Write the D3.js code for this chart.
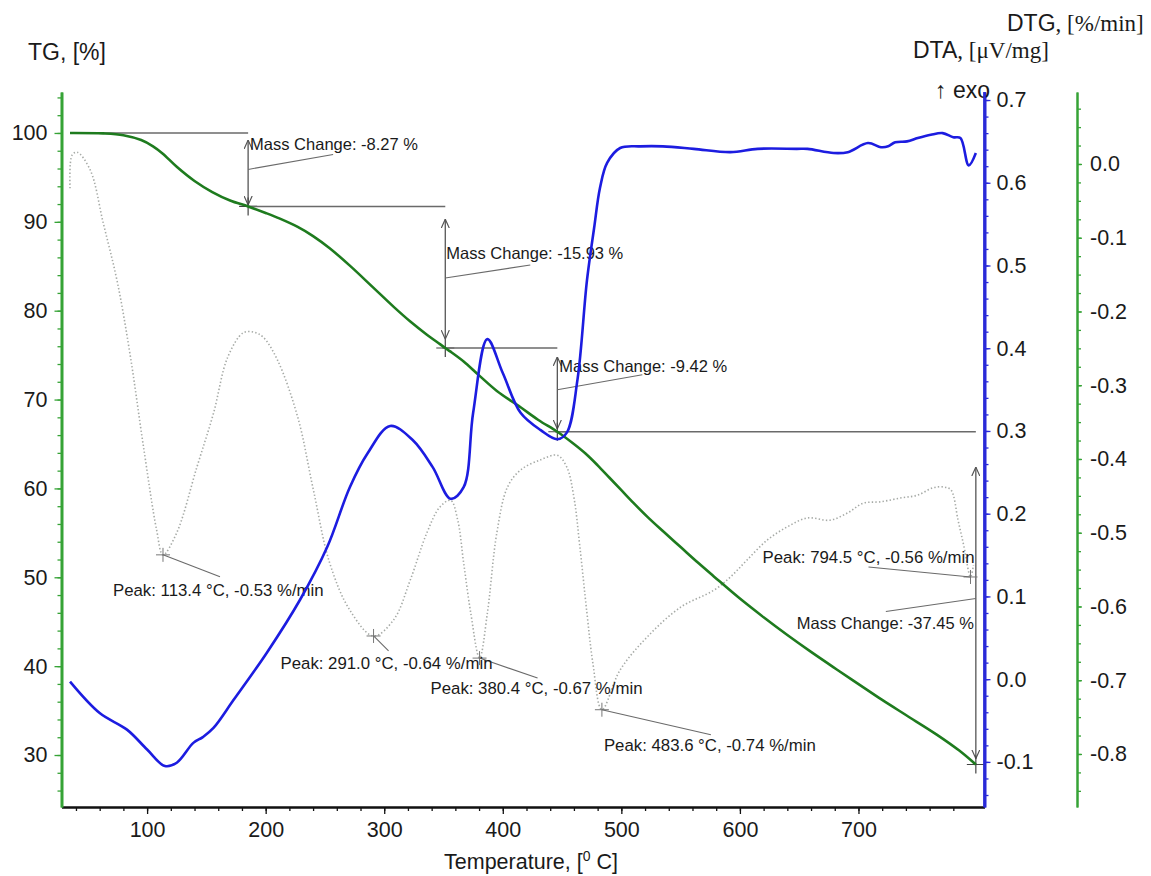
<!DOCTYPE html>
<html><head><meta charset="utf-8">
<script src="https://cdn.jsdelivr.net/npm/d3@7"></script>
<style>
body{margin:0;background:#fff}
svg{display:block}
text{font-family:"Liberation Sans",Arial,Helvetica,sans-serif;fill:#1a1a1a}
</style></head><body>
<svg id="c" width="1151" height="876"></svg>
<script>
// ---------------- DATA ----------------
const tgTemp = [35, 63, 80, 95, 105, 113, 125, 140, 155, 170, 185.2, 200, 212, 227, 240, 254, 271, 291, 308, 322, 336, 347, 351.5, 356, 367, 380, 395, 415, 430, 446, 460, 470, 480, 490, 500, 510, 522, 535, 550, 565, 578, 600, 620, 640, 660, 682, 701, 720, 740, 766, 785, 799];
const tgMass = [100, 99.95, 99.75, 99.2, 98.5, 97.7, 96.2, 94.6, 93.35, 92.4, 91.73, 91.0, 90.36, 89.43, 88.4, 87.03, 85.07, 82.57, 80.43, 78.78, 77.3, 76.24, 75.8, 75.39, 74.29, 72.72, 70.97, 69.13, 67.7, 66.38, 65.0, 63.9, 62.6, 61.2, 59.8, 58.4, 56.8, 55.2, 53.4, 51.6, 50.1, 47.6, 45.5, 43.5, 41.6, 39.6, 37.9, 36.2, 34.5, 32.3, 30.5, 28.93];

const dtaTemp = [35, 60, 83, 100, 115, 125, 139, 147, 156, 173, 201, 229, 252, 271, 286, 305, 324, 341, 356, 367, 375, 387, 400, 415, 432, 446, 454, 463, 471, 477, 482, 488, 499, 516, 535, 561, 592, 615, 648, 657, 679, 691, 708, 719, 725, 731, 741, 750, 761, 771, 780, 786, 793, 799];
const dtaVal = [-0.003, -0.041, -0.061, -0.085, -0.105, -0.101, -0.077, -0.070, -0.059, -0.025, 0.032, 0.096, 0.160, 0.232, 0.273, 0.306, 0.289, 0.256, 0.218, 0.232, 0.322, 0.411, 0.370, 0.322, 0.301, 0.290, 0.298, 0.362, 0.482, 0.545, 0.594, 0.624, 0.642, 0.644, 0.644, 0.641, 0.637, 0.641, 0.641, 0.641, 0.636, 0.637, 0.648, 0.643, 0.644, 0.649, 0.650, 0.654, 0.658, 0.660, 0.655, 0.654, 0.621, 0.636];

const dtgTemp = [35, 36.7, 41, 52, 63, 75, 86, 97, 108, 113.4, 125, 142, 156, 168, 181, 190, 198, 210, 227, 240, 254, 271, 291, 308, 322, 336, 347, 356, 362, 367, 373, 380.4, 387, 395, 404, 415, 432, 446, 454, 460, 465, 471, 476, 483.6, 499, 522, 550, 578, 592, 606, 623, 640, 657, 676, 691, 704, 719, 735, 750, 763, 772, 778, 784, 789, 794.5, 797];
const dtgVal = [-0.033, 0.012, 0.016, -0.008, -0.080, -0.161, -0.262, -0.384, -0.496, -0.53, -0.500, -0.411, -0.338, -0.262, -0.229, -0.228, -0.235, -0.266, -0.343, -0.44, -0.541, -0.605, -0.64, -0.618, -0.564, -0.500, -0.465, -0.456, -0.483, -0.541, -0.609, -0.67, -0.609, -0.500, -0.438, -0.415, -0.401, -0.395, -0.411, -0.452, -0.519, -0.609, -0.677, -0.74, -0.686, -0.641, -0.601, -0.578, -0.560, -0.537, -0.510, -0.492, -0.480, -0.483, -0.473, -0.460, -0.458, -0.453, -0.449, -0.439, -0.438, -0.442, -0.483, -0.519, -0.56, -0.544];

// mass change steps
const massLabels = ["Mass Change: -8.27 %", "Mass Change: -15.93 %", "Mass Change: -9.42 %", "Mass Change: -37.45 %"];
const massTemps = [185.2, 351.5, 446, 799];
const massStartLevels = [100, 91.73, 75.80, 66.38];
const massEndLevels = [91.73, 75.80, 66.38, 28.93];
const levelLineFrom = [35, 185.2, 349, 444];
const arrowTop = [99.2, 90.3, 74.8, 62.4];
const arrowBottom = [91.9, 76.8, 66.7, 29.6];

// DTG peaks
const peakLabels = ["Peak: 113.4 °C, -0.53 %/min", "Peak: 291.0 °C, -0.64 %/min", "Peak: 380.4 °C, -0.67 %/min", "Peak: 483.6 °C, -0.74 %/min", "Peak: 794.5 °C, -0.56 %/min"];
const peakTemps = [113.4, 291.0, 380.4, 483.6, 794.5];
const peakVals = [-0.53, -0.64, -0.67, -0.74, -0.56];

// ticks
const xTicks = [100, 200, 300, 400, 500, 600, 700];
const tgTicks = [30, 40, 50, 60, 70, 80, 90, 100];
const dtaTicks = [-0.1, 0.0, 0.1, 0.2, 0.3, 0.4, 0.5, 0.6, 0.7];
const dtgTicks = [0.0, -0.1, -0.2, -0.3, -0.4, -0.5, -0.6, -0.7, -0.8];

// ---------------- LAYOUT / STYLE ----------------
const plot = {left: 61.5, right: 984.5, top: 92, bottom: 807};
const rightAxisX = 1077;
const C = {tg: "#1e7b1e", tgAxis: "#36a336", dta: "#1c1ce0", dtaAxis: "#2a2ad8", dtg: "#a6aaa6", ann: "#6a6a6a"};
const massLayout = [
  {dx: 2, dy: -56, anchor: "start", l0: [0, -37], l1: [85, -52]},
  {dx: 1, dy: -89, anchor: "start", l0: [0, -70], l1: [85, -83]},
  {dx: 2, dy: -60, anchor: "start", l0: [0, -42], l1: [85, -57]},
  {dx: -2, dy: -136, anchor: "end", l0: [0, -166], l1: [-90, -153]}
];
const peakLayout = [
  {dx: -50, dy: 41, anchor: "start", l1: [57, 22]},
  {dx: -93, dy: 33, anchor: "start", l1: [15, 15]},
  {dx: -49, dy: 36, anchor: "start", l1: [58, 20]},
  {dx: 2, dy: 41, anchor: "start", l1: [109, 25]},
  {dx: 4, dy: -14, anchor: "end", l1: [-102, -10]}
];

const svg = d3.select("#c");
const x = d3.scaleLinear().domain([27.8, 806.3]).range([plot.left, plot.right]);
const yTG = d3.scaleLinear().domain([24.15, 104.61]).range([plot.bottom, plot.top]);
const yDTA = d3.scaleLinear().domain([-0.1545, 0.7097]).range([plot.bottom, plot.top]);
const yDTG = d3.scaleLinear().domain([-0.8719, 0.0976]).range([plot.bottom, plot.top]);

const defs = svg.append("defs");
defs.append("marker").attr("id", "arr").attr("viewBox", "0 -5 10 10")
  .attr("refX", 10).attr("refY", 0).attr("markerWidth", 9).attr("markerHeight", 9)
  .attr("markerUnits", "userSpaceOnUse").attr("orient", "auto-start-reverse")
  .append("path").attr("d", "M0,-4.5L10,0L0,4.5").attr("fill", "none")
  .attr("stroke", "#555").attr("stroke-width", 1.3);

// DTG dotted
const dtgData = dtgTemp.map((t, i) => [t, dtgVal[i]]);
svg.append("path").datum(dtgData)
  .attr("d", d3.line().x(d => x(d[0])).y(d => yDTG(d[1])).curve(d3.curveCatmullRom.alpha(0.5)))
  .attr("fill", "none").attr("stroke", C.dtg).attr("stroke-width", 1.6).attr("stroke-dasharray", "1.4,2.2");

// annotations
const ann = svg.append("g").attr("stroke", C.ann).attr("stroke-width", 1.5).attr("fill", "none");
massTemps.forEach((t, i) => {
  ann.append("line").attr("x1", x(levelLineFrom[i])).attr("x2", x(t))
    .attr("y1", yTG(massStartLevels[i])).attr("y2", yTG(massStartLevels[i]));
  ann.append("line").attr("x1", x(t)).attr("x2", x(t))
    .attr("y1", yTG(arrowTop[i])).attr("y2", yTG(arrowBottom[i]))
    .attr("stroke", "#555").attr("stroke-width", 1.3)
    .attr("marker-start", "url(#arr)").attr("marker-end", "url(#arr)");
  const cx = x(t), cy = yTG(massEndLevels[i]);
  ann.append("path").attr("d", `M${cx - 9},${cy}H${cx + 9}M${cx},${cy - 9}V${cy + 9}`).attr("stroke", "#444").attr("stroke-width", 1.2);
  const L = massLayout[i];
  ann.append("line").attr("x1", cx + L.l0[0]).attr("y1", cy + L.l0[1]).attr("x2", cx + L.l1[0]).attr("y2", cy + L.l1[1]).attr("stroke-width", 1.1);
  svg.append("text").attr("x", cx + L.dx).attr("y", cy + L.dy).attr("text-anchor", L.anchor)
    .attr("font-size", 16.5).text(massLabels[i]);
});
peakTemps.forEach((t, i) => {
  const cx = x(t), cy = yDTG(peakVals[i]);
  const L = peakLayout[i];
  ann.append("path").attr("d", `M${cx - 7},${cy}H${cx + 7}M${cx},${cy - 7}V${cy + 7}`).attr("stroke", "#777").attr("stroke-width", 1);
  ann.append("line").attr("x1", cx).attr("y1", cy).attr("x2", cx + L.l1[0]).attr("y2", cy + L.l1[1]).attr("stroke-width", 1.1);
  svg.append("text").attr("x", cx + L.dx).attr("y", cy + L.dy).attr("text-anchor", L.anchor)
    .attr("font-size", 16.8).text(peakLabels[i]);
});

// TG
const tgData = tgTemp.map((t, i) => [t, tgMass[i]]);
svg.append("path").datum(tgData)
  .attr("d", d3.line().x(d => x(d[0])).y(d => yTG(d[1])).curve(d3.curveCatmullRom.alpha(0.5)))
  .attr("fill", "none").attr("stroke", C.tg).attr("stroke-width", 2.6);

// DTA
const dtaData = dtaTemp.map((t, i) => [t, dtaVal[i]]);
svg.append("path").datum(dtaData)
  .attr("d", d3.line().x(d => x(d[0])).y(d => yDTA(d[1])).curve(d3.curveCatmullRom.alpha(0.5)))
  .attr("fill", "none").attr("stroke", C.dta).attr("stroke-width", 2.6);

// ---------------- AXES ----------------
function styleAxis(g, color, width, font) {
  g.select(".domain").attr("stroke", color).attr("stroke-width", width);
  g.selectAll(".tick line").attr("stroke", color).attr("stroke-width", 1.3);
  g.selectAll(".tick text").attr("font-size", font).attr("fill", "#1a1a1a")
    .attr("font-family", '"Liberation Sans",Arial,sans-serif');
  g.attr("font-size", null).attr("font-family", null);
}
function range(a, b, s) { const r = []; for (let v = a; v <= b + 1e-9; v += s) r.push(+v.toFixed(4)); return r; }

const gx = svg.append("g").attr("transform", `translate(0,${plot.bottom})`);
gx.call(d3.axisBottom(x).tickValues(range(40, 780, 20)).tickFormat("").tickSize(4).tickSizeOuter(0));
styleAxis(gx, "#111", 2, 21);
const gx2 = svg.append("g").attr("transform", `translate(0,${plot.bottom})`);
gx2.call(d3.axisBottom(x).tickValues(xTicks).tickFormat(d3.format("d")).tickSize(7).tickSizeOuter(0).tickPadding(8));
styleAxis(gx2, "#111", 2, 21.5);

const gl = svg.append("g").attr("transform", `translate(${plot.left},0)`);
gl.call(d3.axisLeft(yTG).tickValues(range(26, 104, 2)).tickFormat("").tickSize(4).tickSizeOuter(0));
styleAxis(gl, C.tgAxis, 2.6, 21);
const gl2 = svg.append("g").attr("transform", `translate(${plot.left},0)`);
gl2.call(d3.axisLeft(yTG).tickValues(tgTicks).tickFormat(d3.format("d")).tickSize(7).tickSizeOuter(0).tickPadding(7));
styleAxis(gl2, C.tgAxis, 2.6, 21.5);

const gb = svg.append("g").attr("transform", `translate(${plot.right},0)`);
gb.call(d3.axisRight(yDTA).tickValues(range(-0.14, 0.70, 0.02)).tickFormat("").tickSize(4).tickSizeOuter(0));
styleAxis(gb, C.dtaAxis, 2.6, 21);
const gb2 = svg.append("g").attr("transform", `translate(${plot.right},0)`);
gb2.call(d3.axisRight(yDTA).tickValues(dtaTicks).tickFormat(d3.format(".1f")).tickSize(6).tickSizeOuter(0).tickPadding(6));
styleAxis(gb2, C.dtaAxis, 2.6, 21.5);

const gr = svg.append("g").attr("transform", `translate(${rightAxisX},0)`);
gr.call(d3.axisRight(yDTG).tickValues(range(-0.85, 0.075, 0.025)).tickFormat("").tickSize(4).tickSizeOuter(0));
styleAxis(gr, C.tgAxis, 2, 21);
const gr2 = svg.append("g").attr("transform", `translate(${rightAxisX},0)`);
gr2.call(d3.axisRight(yDTG).tickValues(dtgTicks).tickFormat(d3.format(".1f")).tickSize(5).tickSizeOuter(0).tickPadding(8));
styleAxis(gr2, C.tgAxis, 2, 21.5);
svg.selectAll(".tick text").each(function () { const t = d3.select(this); t.text(t.text().replace("−", "-")); });

// ---------------- TITLES ----------------
const serif = '"Liberation Serif","Times New Roman",serif';
svg.append("text").attr("x", 28).attr("y", 60).attr("font-size", 23).text("TG, [%]");
const tDTG = svg.append("text").attr("x", 1007).attr("y", 31).attr("font-size", 23);
tDTG.append("tspan").text("DTG");
tDTG.append("tspan").attr("font-family", serif).attr("font-size", 23).text(", [%/min]");
const tDTA = svg.append("text").attr("x", 913).attr("y", 58).attr("font-size", 23);
tDTA.append("tspan").text("DTA");
tDTA.append("tspan").attr("font-family", serif).attr("font-size", 23).text(", [μV/mg]");
svg.append("text").attr("x", 935).attr("y", 98).attr("font-size", 23).text("↑ exo");
svg.append("line").attr("x1", plot.right).attr("x2", plot.right).attr("y1", plot.top).attr("y2", plot.bottom)
  .attr("stroke", C.dtaAxis).attr("stroke-width", 2.6);

const tX = svg.append("text").attr("x", 531).attr("y", 869).attr("text-anchor", "middle").attr("font-size", 21.5);
tX.append("tspan").text("Temperature, [");
tX.append("tspan").attr("font-size", 14).attr("dy", -8).text("0");
tX.append("tspan").attr("dy", 8).text(" C]");
</script></body></html>
